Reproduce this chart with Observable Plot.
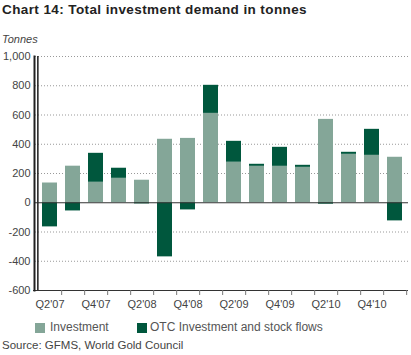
<!DOCTYPE html>
<html>
<head>
<meta charset="utf-8">
<script src="https://cdn.jsdelivr.net/npm/d3@7"></script>
<script src="https://cdn.jsdelivr.net/npm/@observablehq/plot@0.6"></script>
<style>
  body { margin: 0; background: #fff; font-family: "Liberation Sans", Arial, sans-serif; }
  #wrap { position: relative; width: 411px; height: 355px; overflow: hidden; }
  #title { position: absolute; left: 2px; top: 2px; font-size: 13.5px; font-weight: bold; color: #222; letter-spacing: 0.4px; }
  #unit { position: absolute; left: 2px; top: 33px; font-size: 11px; font-style: italic; color: #444; }
  #chart { position: absolute; left: 0; top: 44px; }
  #legend { position: absolute; left: 0; top: 320px; font-size: 12px; color: #555; }
  .sw { position: absolute; width: 10px; height: 10px; top: 3px; }
  .lt { position: absolute; top: 0; white-space: nowrap; }
  #source { position: absolute; left: 2px; top: 339px; font-size: 11.5px; color: #444; white-space: nowrap; }
</style>
</head>
<body>
<div id="wrap">
  <div id="title">Chart 14: Total investment demand in tonnes</div>
  <div id="unit">Tonnes</div>
  <div id="chart"></div>
  <div id="legend"></div>
  <div id="source">Source: GFMS, World Gold Council</div>
</div>
<script>
const quarters = ["Q2'07","Q3'07","Q4'07","Q1'08","Q2'08","Q3'08","Q4'08","Q1'09","Q2'09","Q3'09","Q4'09","Q1'10","Q2'10","Q3'10","Q4'10","Q1'11"];
const investment = [135, 250, 140, 167, 154, 434, 440, 611, 277, 249, 249, 242, 570, 331, 324, 311];
const otcFlows = [-165, -56, 198, 69, -8, -370, -49, 192, 143, 14, 130, 14, -10, 14, 178, -124];
const seriesNames = ["Investment", "OTC Investment and stock flows"];
const seriesColors = ["#84a698", "#00573d"];
const labelQuarters = ["Q2'07","Q4'07","Q2'08","Q4'08","Q2'09","Q4'09","Q2'10","Q4'10"];
const yTicks = [-600, -400, -200, 0, 200, 400, 600, 800, 1000];

const rows = [];
quarters.forEach((q, i) => {
  rows.push({quarter: q, series: seriesNames[0], value: investment[i]});
  rows.push({quarter: q, series: seriesNames[1], value: otcFlows[i]});
});

const width = 411, height = 270;
const marginLeft = 35, marginRight = 3, marginTop = 12, marginBottom = 24;
const step = (width - marginLeft - marginRight) / quarters.length;
const fmt = d => d.toLocaleString("en-US");

const chart = Plot.plot({
  width, height, marginLeft, marginRight, marginTop, marginBottom,
  style: {fontFamily: "Liberation Sans, Arial, sans-serif", fontSize: "11px", color: "#444", background: "#fff"},
  x: {domain: quarters, paddingInner: 0.36, paddingOuter: 0.18},
  y: {domain: [-600, 1000]},
  color: {domain: seriesNames, range: seriesColors},
  marks: [
    Plot.gridY(yTicks.filter(d => d !== 0), {stroke: "#999", strokeOpacity: 1, strokeDasharray: "1,2", strokeWidth: 1}),
    Plot.barY(rows, {x: "quarter", y: "value", fill: "series", order: seriesNames}),
    Plot.ruleY([0], {stroke: "#333", strokeWidth: 1.2}),
    Plot.axisY({ticks: yTicks, tickFormat: fmt, tickSize: 0, tickPadding: 5, label: null, fill: "#444"}),
    Plot.ruleY([-600], {stroke: "#333", strokeWidth: 1.2, insetLeft: -2}),
    Plot.frame({anchor: "left", stroke: "#222", strokeWidth: 2, dx: -1}),
    Plot.ruleX([quarters[0]], {y1: -600, y2: 1000, dx: -step / 2 - 0.5, stroke: "#2a2a2a", strokeWidth: 1.6}),
    Plot.axisX({ticks: quarters, tickFormat: () => "", tickSize: 5, dx: step / 2, stroke: "#777", label: null}),
    Plot.axisX({ticks: labelQuarters, tickSize: 0, tickPadding: 10, label: null, fill: "#444", fontSize: 11})
  ]
});
document.getElementById("chart").appendChild(chart);

const legend = document.getElementById("legend");
const legendX = [[35, 50], [137, 150]];
seriesNames.forEach((name, i) => {
  const sw = document.createElement("div");
  sw.className = "sw";
  sw.style.left = legendX[i][0] + "px";
  sw.style.background = seriesColors[i];
  legend.appendChild(sw);
  const t = document.createElement("div");
  t.className = "lt";
  t.style.left = legendX[i][1] + "px";
  t.textContent = name;
  legend.appendChild(t);
});
</script>
</body>
</html>
